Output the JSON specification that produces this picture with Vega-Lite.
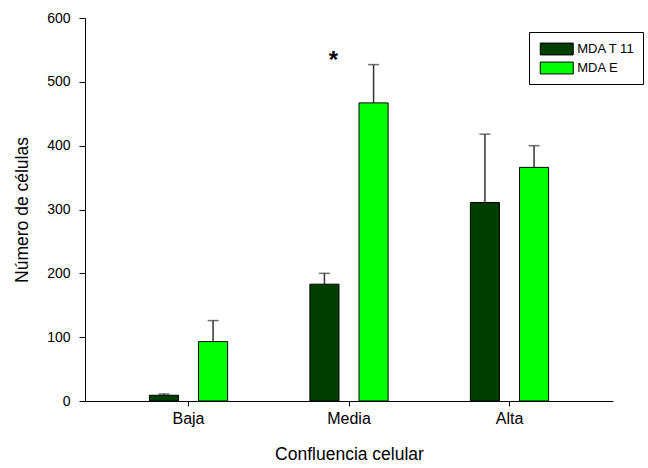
{
  "$schema": "https://vega.github.io/schema/vega-lite/v6.json",
  "width": 528,
  "height": 383,
  "autosize": {"type": "none"},
  "padding": {"left": 85, "top": 18, "right": 35, "bottom": 67},
  "background": "white",
  "config": {
    "font": "Liberation Sans",
    "view": {"stroke": null},
    "axis": {"labelColor": "black", "titleColor": "black", "domainColor": "black", "tickColor": "black", "grid": false, "labelFont": "Liberation Sans", "titleFont": "Liberation Sans", "titleFontWeight": "normal"}
  },
  "datasets": {
    "main": [
      {"conf": "Baja", "grupo": "MDA T 11", "valor": 9, "sup": 11},
      {"conf": "Baja", "grupo": "MDA E", "valor": 93, "sup": 126},
      {"conf": "Media", "grupo": "MDA T 11", "valor": 183, "sup": 200},
      {"conf": "Media", "grupo": "MDA E", "valor": 467, "sup": 527},
      {"conf": "Alta", "grupo": "MDA T 11", "valor": 311, "sup": 418},
      {"conf": "Alta", "grupo": "MDA E", "valor": 366, "sup": 400}
    ],
    "marca": [
      {"conf": "Media", "grupo": "MDA T 11", "valor": 532, "txt": "*"}
    ]
  },
  "encoding": {
    "x": {
      "field": "conf", "type": "nominal", "sort": ["Baja", "Media", "Alta"],
      "scale": {"paddingInner": 0, "paddingOuter": 0.145},
      "axis": {"title": "Confluencia celular", "labelAngle": 0, "labelFontSize": 16, "titleFontSize": 17.5, "tickSize": 5, "labelPadding": 4, "titlePadding": 19, "domainWidth": 1}
    },
    "xOffset": {
      "field": "grupo", "type": "nominal", "sort": ["MDA T 11", "MDA E"],
      "scale": {"paddingInner": 0.408, "paddingOuter": 0.837}
    }
  },
  "layer": [
    {
      "data": {"name": "main"},
      "mark": {"type": "rule", "color": "#333333", "strokeWidth": 1.5},
      "encoding": {
        "y": {"field": "valor", "type": "quantitative"},
        "y2": {"field": "sup"}
      }
    },
    {
      "data": {"name": "main"},
      "mark": {"type": "tick", "color": "#333333", "size": 11, "thickness": 1.5, "orient": "horizontal"},
      "encoding": {
        "y": {"field": "sup", "type": "quantitative"}
      }
    },
    {
      "data": {"name": "main"},
      "mark": {"type": "bar", "stroke": "black", "strokeWidth": 1},
      "encoding": {
        "y": {
          "field": "valor", "type": "quantitative",
          "scale": {"domain": [0, 600], "nice": false},
          "axis": {"title": "Número de células", "values": [0, 100, 200, 300, 400, 500, 600], "labelFontSize": 14, "titleFontSize": 17.5, "tickSize": 6, "labelPadding": 9, "titlePadding": 15, "domainWidth": 1}
        },
        "color": {
          "field": "grupo", "type": "nominal", "sort": ["MDA T 11", "MDA E"],
          "scale": {"domain": ["MDA T 11", "MDA E"], "range": ["#003F00", "#00FF00"]},
          "legend": {
            "title": null, "orient": "none", "legendX": 444, "legendY": 14,
            "strokeColor": "black", "padding": 8, "fillColor": "white",
            "symbolType": "M-2,-0.72H2V0.72H-2Z", "symbolSize": 272,
            "symbolOffset": 10.75,
            "symbolStrokeColor": "black", "symbolStrokeWidth": 1, "symbolOpacity": 1,
            "labelFontSize": 13, "labelColor": "black", "labelOffset": 11.5, "rowPadding": 2
          }
        }
      }
    },
    {
      "data": {"name": "marca"},
      "mark": {"type": "text", "fontSize": 24, "fontWeight": "bold", "dx": 9, "baseline": "middle", "color": "black"},
      "encoding": {
        "y": {"field": "valor", "type": "quantitative"},
        "text": {"field": "txt"}
      }
    }
  ]
}
